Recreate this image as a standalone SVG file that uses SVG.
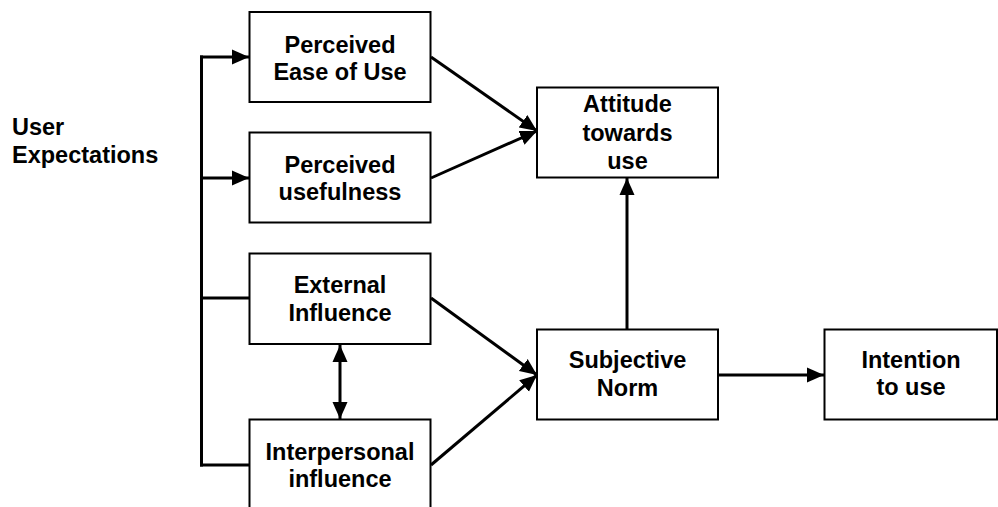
<svg xmlns="http://www.w3.org/2000/svg" width="998" height="507" viewBox="0 0 998 507">
  <style>
    .box { fill: #ffffff; stroke: #000000; stroke-width: 2; }
    .lbl { font-family: "Liberation Sans", Arial, sans-serif; font-weight: bold; font-size: 23.5px; fill: #000000; text-anchor: middle; }
    .side { text-anchor: start; }
    .wire { fill: none; stroke: #000000; stroke-width: 3; }
    .arrow { marker-end: url(#head); }
    .both { marker-start: url(#head); marker-end: url(#head); }
  </style>
  <defs>
    <marker id="head" markerUnits="userSpaceOnUse" markerWidth="18" markerHeight="17" refX="17" refY="8.5" orient="auto-start-reverse" viewBox="0 0 18 17">
      <path d="M0,1 L17,8.5 L0,16 z" fill="#000000"/>
    </marker>
  </defs>
  <rect width="998" height="507" fill="#ffffff"/>

  <text class="lbl side" x="12" y="135">User</text>
  <text class="lbl side" x="12" y="163">Expectations</text>

  <g id="connectors">
    <path class="wire" d="M201.5,55.5 V466.5"/>
    <path class="wire arrow" d="M200,57 H249"/>
    <path class="wire arrow" d="M200,178 H249"/>
    <path class="wire" d="M200,298 H249"/>
    <path class="wire" d="M200,465 H249"/>
    <path class="wire arrow" d="M431,57 L537,131"/>
    <path class="wire arrow" d="M431,178 L537,131"/>
    <path class="wire arrow" d="M431,298 L537,375"/>
    <path class="wire arrow" d="M431,465 L537,375"/>
    <path class="wire arrow" d="M627,329 V178"/>
    <path class="wire arrow" d="M718,375 H824"/>
    <path class="wire both" d="M340,345 V419"/>
  </g>

  <g id="perceived-ease">
    <rect class="box" x="249.5" y="12" width="181" height="90"/>
    <text class="lbl" x="340" y="53">Perceived</text>
    <text class="lbl" x="340" y="80">Ease of Use</text>
  </g>

  <g id="perceived-usefulness">
    <rect class="box" x="249.5" y="132.5" width="181" height="90"/>
    <text class="lbl" x="340" y="173">Perceived</text>
    <text class="lbl" x="340" y="200">usefulness</text>
  </g>

  <g id="external-influence">
    <rect class="box" x="249.5" y="253.5" width="181" height="90.5"/>
    <text class="lbl" x="340" y="293">External</text>
    <text class="lbl" x="340" y="321">Influence</text>
  </g>

  <g id="interpersonal-influence">
    <rect class="box" x="249.5" y="419.5" width="181" height="100"/>
    <text class="lbl" x="340" y="460">Interpersonal</text>
    <text class="lbl" x="340" y="487">influence</text>
  </g>

  <g id="attitude">
    <rect class="box" x="537" y="87.5" width="181" height="90"/>
    <text class="lbl" x="627.5" y="112">Attitude</text>
    <text class="lbl" x="627.5" y="141">towards</text>
    <text class="lbl" x="627.5" y="169">use</text>
  </g>

  <g id="subjective-norm">
    <rect class="box" x="537" y="329.5" width="181" height="90"/>
    <text class="lbl" x="627.5" y="368">Subjective</text>
    <text class="lbl" x="627.5" y="396">Norm</text>
  </g>

  <g id="intention">
    <rect class="box" x="824.5" y="329.5" width="172.5" height="90"/>
    <text class="lbl" x="911" y="368">Intention</text>
    <text class="lbl" x="911" y="395">to use</text>
  </g>
</svg>
